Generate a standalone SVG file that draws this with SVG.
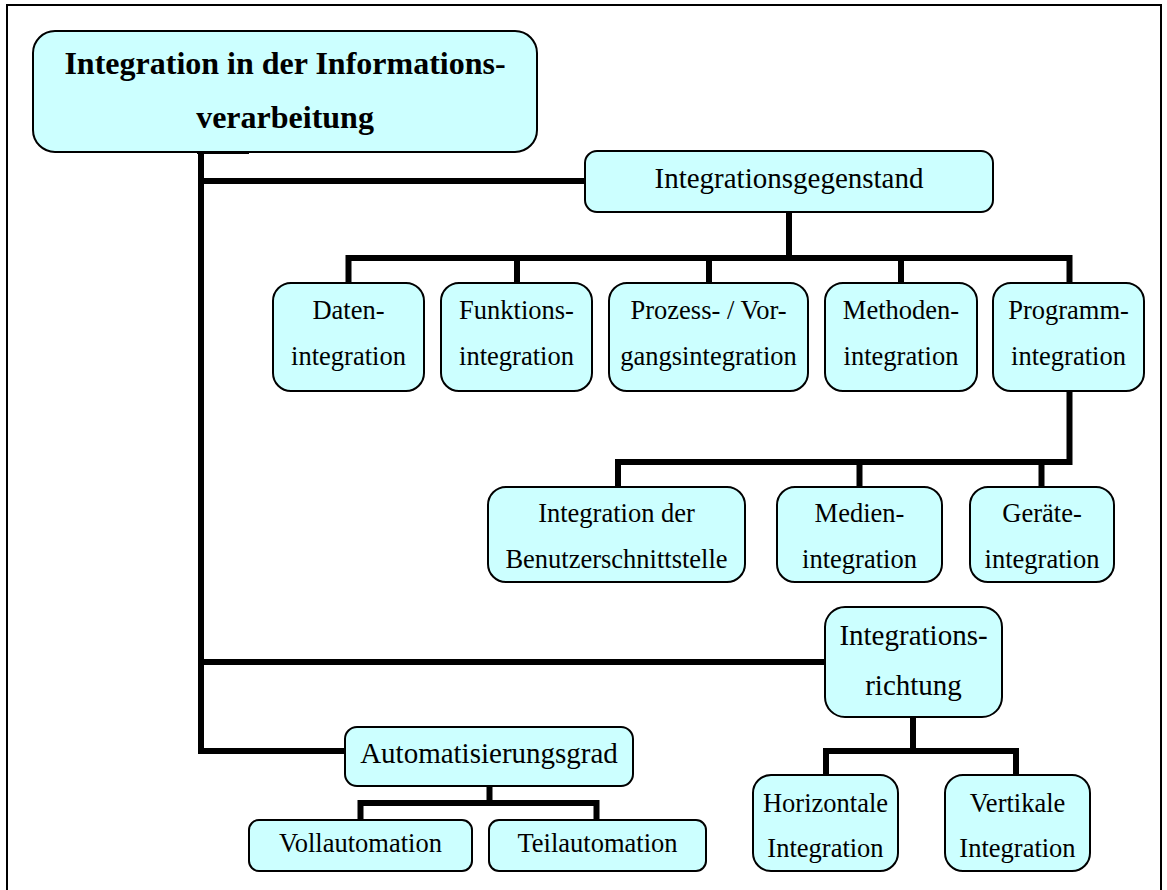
<svg xmlns="http://www.w3.org/2000/svg" width="1167" height="890" viewBox="0 0 1167 890">
<style>
.box{fill:#CCFFFF;stroke:#000;stroke-width:2}
.t{font-family:"Liberation Serif","Times New Roman",serif;font-size:26.5px;fill:#000;text-anchor:middle}
.c{font-size:29px}
.b{font-family:"Liberation Serif","Times New Roman",serif;font-size:32px;font-weight:bold;fill:#000;text-anchor:middle}
.ln{fill:none;stroke:#000;stroke-width:6;stroke-linecap:square;stroke-linejoin:miter}
</style>
<rect x="0" y="0" width="1167" height="890" fill="#fff"/>
<rect x="7" y="5" width="1154" height="900" fill="none" stroke="#000" stroke-width="2"/>
<g id="connectors">
<polyline class="ln" points="201,155 201,751 342,751"/>
<line class="ln" x1="201" y1="181" x2="582" y2="181"/>
<rect x="197" y="150" width="52" height="4" fill="#000"/>
<line class="ln" x1="201" y1="662" x2="822" y2="662"/>
<line class="ln" x1="789" y1="214" x2="789" y2="258"/>
<polyline class="ln" points="348.5,281 348.5,258 1069.5,258 1069.5,281"/>
<line class="ln" x1="517" y1="258" x2="517" y2="281"/>
<line class="ln" x1="709" y1="258" x2="709" y2="281"/>
<line class="ln" x1="901" y1="258" x2="901" y2="281"/>
<polyline class="ln" points="1069.5,393 1069.5,462 618,462 618,485"/>
<line class="ln" x1="859.5" y1="462" x2="859.5" y2="485"/>
<line class="ln" x1="1041.5" y1="462" x2="1041.5" y2="485"/>
<line class="ln" x1="489.5" y1="788" x2="489.5" y2="803"/>
<polyline class="ln" points="360.5,818 360.5,803 596.5,803 596.5,818"/>
<line class="ln" x1="913" y1="719" x2="913" y2="751"/>
<polyline class="ln" points="826,773 826,751 1016,751 1016,773"/>
</g>
<g id="main">
<rect class="box" x="33" y="31" width="504" height="121" rx="22"/>
<text class="b" x="285" y="74">Integration in der Informations-</text>
<text class="b" x="285" y="128">verarbeitung</text>
</g>
<g id="gegenstand">
<rect class="box" x="585" y="151" width="408" height="61" rx="12"/>
<text class="t c" x="789" y="188">Integrationsgegenstand</text>
</g>
<g id="daten">
<rect class="box" x="273" y="283" width="151" height="108" rx="18"/>
<text class="t" x="348.5" y="319">Daten-</text>
<text class="t" x="348.5" y="365">integration</text>
</g>
<g id="funktions">
<rect class="box" x="441" y="283" width="151" height="108" rx="18"/>
<text class="t" x="516.5" y="319">Funktions-</text>
<text class="t" x="516.5" y="365">integration</text>
</g>
<g id="prozess">
<rect class="box" x="609" y="283" width="199" height="108" rx="18"/>
<text class="t" x="708.5" y="319">Prozess- / Vor-</text>
<text class="t" x="708.5" y="365">gangsintegration</text>
</g>
<g id="methoden">
<rect class="box" x="825" y="283" width="152" height="108" rx="18"/>
<text class="t" x="901" y="319">Methoden-</text>
<text class="t" x="901" y="365">integration</text>
</g>
<g id="programm">
<rect class="box" x="993" y="283" width="151" height="108" rx="18"/>
<text class="t" x="1068.5" y="319">Programm-</text>
<text class="t" x="1068.5" y="365">integration</text>
</g>
<g id="benutzer">
<rect class="box" x="488" y="487" width="257" height="95" rx="18"/>
<text class="t" x="616.5" y="522">Integration der</text>
<text class="t" x="616.5" y="568">Benutzerschnittstelle</text>
</g>
<g id="medien">
<rect class="box" x="777" y="487" width="165" height="95" rx="18"/>
<text class="t" x="859.5" y="522">Medien-</text>
<text class="t" x="859.5" y="568">integration</text>
</g>
<g id="geraete">
<rect class="box" x="970" y="487" width="144" height="95" rx="18"/>
<text class="t" x="1042" y="522">Geräte-</text>
<text class="t" x="1042" y="568">integration</text>
</g>
<g id="richtung">
<rect class="box" x="825" y="607" width="177" height="110" rx="20"/>
<text class="t c" x="913.5" y="645">Integrations-</text>
<text class="t c" x="913.5" y="695">richtung</text>
</g>
<g id="automatisierung">
<rect class="box" x="345" y="727" width="288" height="59" rx="12"/>
<text class="t c" x="489" y="763">Automatisierungsgrad</text>
</g>
<g id="voll">
<rect class="box" x="249" y="820" width="223" height="51" rx="10"/>
<text class="t" x="360.5" y="852">Vollautomation</text>
</g>
<g id="teil">
<rect class="box" x="489" y="820" width="217" height="51" rx="10"/>
<text class="t" x="597.5" y="852">Teilautomation</text>
</g>
<g id="horizontal">
<rect class="box" x="753" y="775" width="145" height="96" rx="18"/>
<text class="t" x="825.5" y="812">Horizontale</text>
<text class="t" x="825.5" y="857">Integration</text>
</g>
<g id="vertikal">
<rect class="box" x="945" y="775" width="145" height="96" rx="18"/>
<text class="t" x="1017.5" y="812">Vertikale</text>
<text class="t" x="1017.5" y="857">Integration</text>
</g>
</svg>
